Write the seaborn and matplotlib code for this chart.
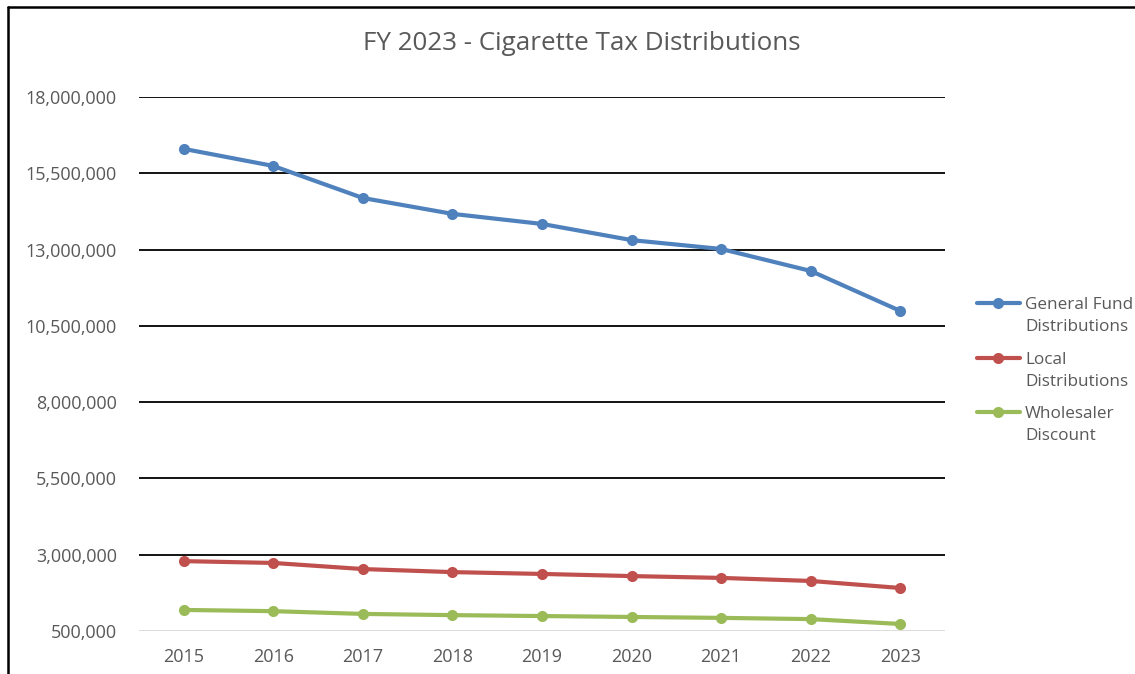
import matplotlib
matplotlib.use("Agg")
import matplotlib.pyplot as plt
import matplotlib.ticker as mticker
from matplotlib.lines import Line2D
import pandas as pd
import seaborn as sns

years = ["2015", "2016", "2017", "2018", "2019", "2020", "2021", "2022", "2023"]
general_fund = [16300000, 15740000, 14690000, 14170000, 13840000, 13310000, 13020000, 12300000, 10990000]
local = [2790000, 2730000, 2530000, 2430000, 2370000, 2300000, 2240000, 2140000, 1910000]
wholesaler = [1190000, 1150000, 1060000, 1020000, 990000, 960000, 930000, 890000, 730000]

series_names = ["General Fund\nDistributions", "Local\nDistributions", "Wholesaler\nDiscount"]
colors = ["#4F81BD", "#C0504D", "#9BBB59"]
y_ticks = [500000, 3000000, 5500000, 8000000, 10500000, 13000000, 15500000, 18000000]

df = pd.DataFrame({
    "year": years * 3,
    "value": general_fund + local + wholesaler,
    "series": [series_names[0]] * 9 + [series_names[1]] * 9 + [series_names[2]] * 9,
})

sns.set_theme(style="white")
plt.rcParams["font.family"] = ["Open Sans", "DejaVu Sans"]
text_color = "#595959"

W, H = 1135, 674
fig = plt.figure(figsize=(W / 100, H / 100), dpi=100)
ax = fig.add_axes([139 / W, 1 - 631 / H, (945 - 139) / W, (631 - 97) / H])

sns.lineplot(data=df, x="year", y="value", hue="series", palette=colors,
             marker="o", markersize=8, markeredgewidth=0, linewidth=3.0,
             sort=False, ax=ax, legend=False, zorder=3)

ax.set_xlim(-0.5, len(years) - 0.5)
ax.set_ylim(y_ticks[0], y_ticks[-1])
ax.set_yticks(y_ticks)
ax.yaxis.set_major_formatter(mticker.FuncFormatter(lambda v, p: f"{int(v):,}"))
ax.grid(False)
for t in y_ticks[1:]:
    ax.axhline(t, color="black", linewidth=1.3, zorder=1)
ax.axhline(y_ticks[0], color="#D9D9D9", linewidth=1.3, zorder=1)
for s in ax.spines.values():
    s.set_visible(False)
ax.set_xlabel("")
ax.set_ylabel("")
ax.tick_params(axis="both", length=0, labelsize=13, colors=text_color)
ax.tick_params(axis="y", pad=16)
ax.tick_params(axis="x", pad=12)

fig.text(582 / W, 1 - 44 / H, "FY 2023 - Cigarette Tax Distributions",
         ha="center", va="center", fontsize=18.7, color=text_color)

# legend: handle aligned with the first line of each two-line label
row_y = [303, 358, 412]
for name, c, y in zip(series_names, colors, row_y):
    fy = 1 - y / H
    fig.add_artist(Line2D([977 / W, 1020 / W], [fy, fy], color=c, linewidth=3.0,
                          transform=fig.transFigure))
    fig.add_artist(Line2D([998 / W], [fy], color=c, marker="o", markersize=8,
                          markeredgewidth=0, transform=fig.transFigure))
    fig.text(1025 / W, 1 - (y + 13) / H, name, ha="left", va="center",
             fontsize=12.3, color=text_color, linespacing=1.45)

# figure frame on top and left edges
fig.add_artist(Line2D([8 / W, 8 / W], [0, 1 - 7 / H], color="black",
                      linewidth=1.8, transform=fig.transFigure))
fig.add_artist(Line2D([8 / W, 1], [1 - 7 / H, 1 - 7 / H], color="black",
                      linewidth=1.8, transform=fig.transFigure))

fig.savefig("out.png", dpi=100, facecolor="white")
